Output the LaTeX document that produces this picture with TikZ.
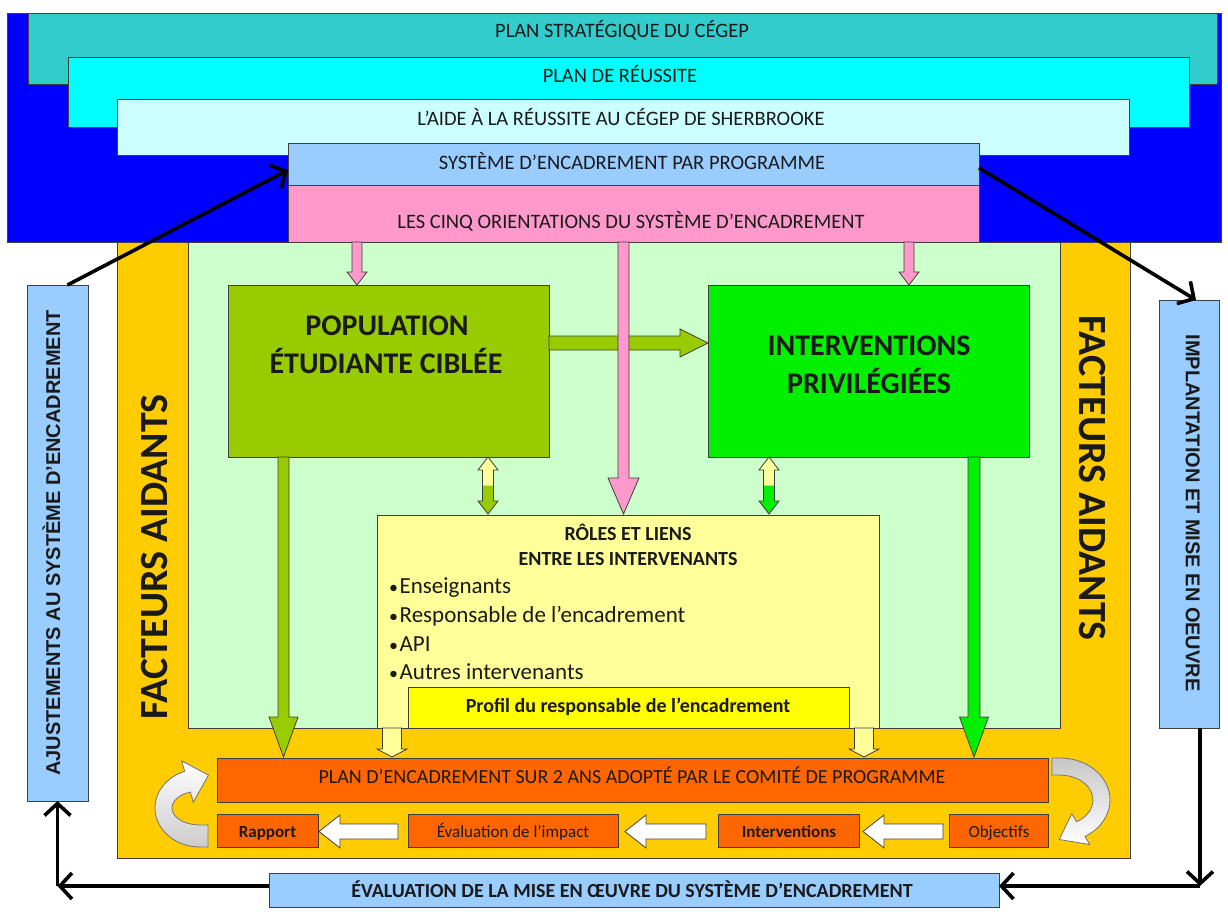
\documentclass[tikz,border=0pt]{standalone}
\usepackage{fontspec}
\setmainfont{Carlito}
\newfontfamily\arialfont{Liberation Sans}
\usetikzlibrary{arrows.meta,calc,fit}

\definecolor{cBg}{HTML}{0000FF}
\definecolor{cStrat}{HTML}{33CCCC}
\definecolor{cReuss}{HTML}{00FFFF}
\definecolor{cAide}{HTML}{CCFFFF}
\definecolor{cSys}{HTML}{99CCFF}
\definecolor{cPink}{HTML}{FF99CC}
\definecolor{cFrame}{HTML}{FFCC00}
\definecolor{cField}{HTML}{CCFFCC}
\definecolor{cPop}{HTML}{99CC00}
\definecolor{cInt}{HTML}{00F000}
\definecolor{cRole}{HTML}{FFFF99}
\definecolor{cProf}{HTML}{FFFF00}
\definecolor{cPlan}{HTML}{FF6600}
\definecolor{cEdge}{HTML}{3F3F3F}
\definecolor{cText}{HTML}{1A1A1A}

\newcommand\fsz[1]{\fontsize{#1}{#1}\selectfont}

% downward block arrow: x, y top, y head start, y tip, half shaft, half head, fill
\newcommand\downblock[7]{%
  \filldraw[blk,fill=#7] ({#1-#5},#2) -- ({#1-#5},#3) -- ({#1-#6},#3) -- (#1,#4)
    -- ({#1+#6},#3) -- ({#1+#5},#3) -- ({#1+#5},#2) -- cycle;}

% white left-pointing block arrow between two step boxes: x tail, x head base, x tip
\newcommand\leftblock[3]{%
  \filldraw[blk,fill=white] (#1,824) -- (#2,824) -- (#2,815) -- (#3,831.5)
    -- (#2,848) -- (#2,839) -- (#1,839) -- cycle;}

% two-way vertical arrow, upper and lower halves filled separately
\newcommand\twoway[5]{%
  \pgfmathsetmacro\twmid{(#2+#3)/2}%
  \fill[#4] (#1,#2) -- ({#1+10},{#2+13}) -- ({#1+5.5},{#2+13}) -- ({#1+5.5},\twmid)
    -- ({#1-5.5},\twmid) -- ({#1-5.5},{#2+13}) -- ({#1-10},{#2+13}) -- cycle;
  \fill[#5] (#1,#3) -- ({#1+10},{#3-13}) -- ({#1+5.5},{#3-13}) -- ({#1+5.5},\twmid)
    -- ({#1-5.5},\twmid) -- ({#1-5.5},{#3-13}) -- ({#1-10},{#3-13}) -- cycle;
  \draw[blk] (#1,#2) -- ({#1+10},{#2+13}) -- ({#1+5.5},{#2+13}) -- ({#1+5.5},{#3-13})
    -- ({#1+10},{#3-13}) -- (#1,#3) -- ({#1-10},{#3-13}) -- ({#1-5.5},{#3-13})
    -- ({#1-5.5},{#2+13}) -- ({#1-10},{#2+13}) -- cycle;}

\begin{document}
\begin{tikzpicture}[x=1pt,y=-1pt,
  box/.style={draw=cEdge, line width=0.8pt, inner sep=0pt, outer sep=0pt},
  blk/.style={draw=cEdge, line width=0.8pt, line join=miter},
  txt/.style={anchor=base, inner sep=0pt, text=cText},
  vtxt/.style={inner sep=0pt, text=cText, text depth=0pt},
  conn/.style={line width=3.6pt, draw=black,
    -{Straight Barb[length=12pt,width=26pt,line width=3.6pt]}},
  curv/.style={draw=black!55, line width=0.8pt, line join=miter}]
\useasboundingbox (0,0) rectangle (1228,912);
\fill[white] (0,0) rectangle (1228,912);

% stacked institutional layers
\node[box, fill=cBg, fit={(7,13) (1221,242)}] (bg) {};
\node[box, fill=cStrat, fit={(28,13) (1217,84)}] (strat) {};
\node[box, fill=cReuss, fit={(68,57) (1189,127)}] (reuss) {};
\node[box, fill=cAide, fit={(117,99) (1129,155)}] (aide) {};

% supporting-factors frame and inner field
\node[box, fill=cFrame, fit={(117,242) (1130,858)}] (frame) {};
\node[box, fill=cField, fit={(188,242) (1060,728)}] (field) {};

% programme system and its orientations
\node[box, fill=cSys, fit={(288,143) (979,185)}] (sys) {};
\node[box, fill=cPink, fit={(288,185) (979,242)}] (cinq) {};

% main blocks
\node[box, fill=cPop, fit={(228,285) (549,457)}] (pop) {};
\node[box, fill=cInt, fit={(708,285) (1029,457)}] (intv) {};
\node[box, fill=cRole, fit={(377,515) (879,728)}] (roles) {};
\node[box, fill=cProf, fit={(408,687) (849,728)}] (profil) {};

% two-year plan and its cycle
\node[box, fill=cPlan, fit={(217,758) (1048,802)}] (plan) {};
\node[box, fill=cPlan, fit={(217,814) (318,847)}] (rapport) {};
\node[box, fill=cPlan, fit={(408,814) (618,847)}] (evimp) {};
\node[box, fill=cPlan, fit={(718,814) (859,847)}] (interv) {};
\node[box, fill=cPlan, fit={(949,814) (1048,847)}] (obj) {};

% outer feedback loop boxes
\node[box, fill=cSys, fit={(27,285) (88,801)}] (ajust) {};
\node[box, fill=cSys, fit={(1159,300) (1219,728)}] (impl) {};
\node[box, fill=cSys, fit={(269,873) (999,907)}] (evalmo) {};

% block arrows inside the frame
\downblock{357}{242}{272}{285}{5}{10}{cPink}
\downblock{909}{242}{272}{285}{5}{10}{cPink}
\filldraw[blk, fill=cPop] (549,336) -- (680,336) -- (680,329) -- (708,343)
  -- (680,357) -- (680,350) -- (549,350) -- cycle;
\downblock{623.5}{242}{478}{514}{5.5}{15.5}{cPink}
\downblock{283.5}{457}{717}{757}{5.5}{14.5}{cPop}
\downblock{974}{457}{717}{757}{6}{14.5}{cInt}
\downblock{392}{728}{749}{757}{9.5}{15}{cRole}
\downblock{864}{728}{749}{757}{9.5}{15}{cRole}
\twoway{488}{457}{514}{cRole}{cPop}
\twoway{769}{457}{514}{cRole}{cInt}
\leftblock{398}{340}{319}
\leftblock{706}{646}{625}
\leftblock{943}{884}{863}

% curved arrows closing the cycle
\path[curv, top color=white, bottom color=black!20]
  (208,847) -- (200,847) arc[start angle=90, end angle=250, x radius=45, y radius=39]
  -- (181.7,761) -- (208.5,775) -- (193.3,802.3) -- (190.4,792)
  arc[start angle=250, end angle=90, x radius=28, y radius=17] -- (208,825) -- cycle;
\path[curv, top color=black!22, bottom color=white]
  (1052,758) -- (1060,758) arc[start angle=-90, end angle=60, x radius=50, y radius=42]
  -- (1089.7,844.5) -- (1059.2,839.5) -- (1071.8,813.6) -- (1076.5,821.7)
  arc[start angle=60, end angle=-90, x radius=33, y radius=25] -- (1052,775) -- cycle;

% texts of the layers
\node[txt, font=\fsz{20.5}] (stratT) at (622,38) {PLAN STRATÉGIQUE DU CÉGEP};
\node[txt, font=\fsz{20.5}] (reussT) at (620,83) {PLAN DE RÉUSSITE};
\node[txt, font=\fsz{20.5}] (aideT) at (621,126) {L’AIDE À LA RÉUSSITE AU CÉGEP DE SHERBROOKE};
\node[txt, font=\fsz{20.5}] (sysT) at (632,170) {SYSTÈME D’ENCADREMENT PAR PROGRAMME};
\node[txt, font=\fsz{20.5}] (cinqT) at (631,228) {LES CINQ ORIENTATIONS DU SYSTÈME D’ENCADREMENT};

\node[txt, font=\bfseries\fsz{30}] (popA) at (387,335) {POPULATION};
\node[txt, font=\bfseries\fsz{30}] (popB) at (386,373) {ÉTUDIANTE CIBLÉE};
\node[txt, font=\bfseries\fsz{30}] (intA) at (869,355) {INTERVENTIONS};
\node[txt, font=\bfseries\fsz{30}] (intB) at (869,393) {PRIVILÉGIÉES};

\node[txt, font=\bfseries\fsz{20}] (rolesA) at (628,540) {RÔLES ET LIENS};
\node[txt, font=\bfseries\fsz{20}] (rolesB) at (628,565) {ENTRE LES INTERVENANTS};
\node[txt, anchor=base west, font=\fsz{23}] (b1) at (389,593) {{\fsz{18}•}\hspace{1.5pt}Enseignants};
\node[txt, anchor=base west, font=\fsz{23}] (b2) at (389,622) {{\fsz{18}•}\hspace{1.5pt}Responsable de l’encadrement};
\node[txt, anchor=base west, font=\fsz{23}] (b3) at (389,651) {{\fsz{18}•}\hspace{1.5pt}API};
\node[txt, anchor=base west, font=\fsz{23}] (b4) at (389,679) {{\fsz{18}•}\hspace{1.5pt}Autres intervenants};
\node[txt, font=\bfseries\fsz{20}] (profT) at (628,712) {Profil du responsable de l’encadrement};

\node[txt, font=\fsz{20}] (planT) at (632,783) {PLAN D’ENCADREMENT SUR 2 ANS ADOPTÉ PAR LE COMITÉ DE PROGRAMME};
\node[txt, font=\bfseries\fsz{17}] (rapT) at (267.5,837) {Rapport};
\node[txt, font=\fsz{17}] (evimpT) at (513,837) {Évaluation de l’impact};
\node[txt, font=\bfseries\fsz{17}] (intervT) at (789,837) {Interventions};
\node[txt, font=\fsz{17}] (objT) at (999,837) {Objectifs};
\node[txt, font=\bfseries\fsz{20}] (evalmoT) at (632,897) {ÉVALUATION DE LA MISE EN ŒUVRE DU SYSTÈME D’ENCADREMENT};

% vertical labels
\node[vtxt, rotate=90, text height=14.3pt, font=\arialfont\bfseries\fsz{20}] (ajustT) at (53,543) {AJUSTEMENTS AU SYSTÈME D’ENCADREMENT};
\node[vtxt, rotate=-90, text height=14.3pt, font=\arialfont\bfseries\fsz{20}] (implT) at (1193,513) {IMPLANTATION ET MISE EN OEUVRE};
\node[vtxt, rotate=90, text height=25.5pt, font=\bfseries\fsz{40}] (factL) at (155,557) {FACTEURS AIDANTS};
\node[vtxt, rotate=-90, text height=25.5pt, font=\bfseries\fsz{40}] (factR) at (1092,478) {FACTEURS AIDANTS};

% feedback loop connectors
\draw[conn] ($(ajust.north)+(10,0)$) -- ($(sys.west)+(0,6)$);
\draw[conn] ($(sys.east)+(0,4)$) -- ($(impl.north)+(7,0)$);
\coordinate (iS) at ($(impl.south)+(11,0)$);
\coordinate (eR) at ($(evalmo.east)+(0,-4)$);
\coordinate (eL) at ($(evalmo.west)+(0,-4)$);
\coordinate (cR) at (iS |- eR);
\coordinate (cL) at (ajust.south |- eL);
\draw[conn] (iS) -- (cR);
\draw[conn] (cR) -- (eR);
\draw[conn] (eL) -- (cL);
\draw[conn] (cL) -- (ajust.south);
\end{tikzpicture}
\end{document}
